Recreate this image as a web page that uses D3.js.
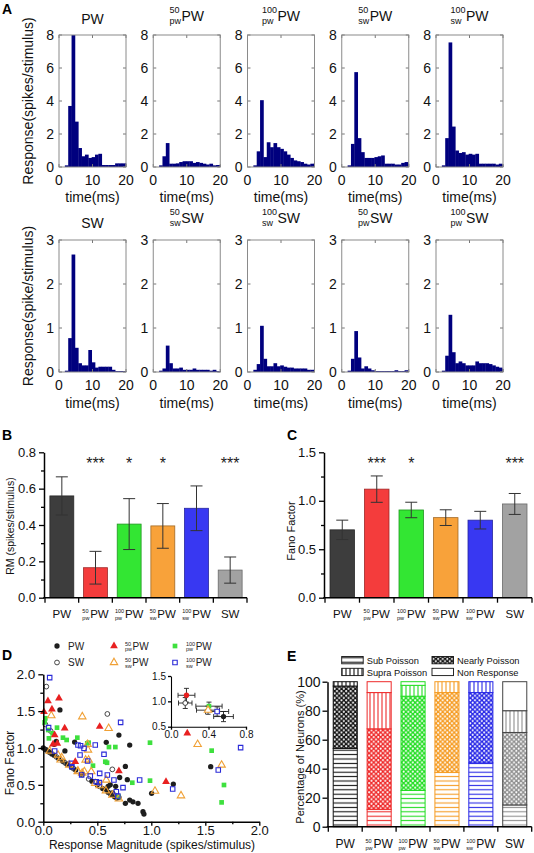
<!DOCTYPE html>
<html><head><meta charset="utf-8">
<script src="https://cdn.jsdelivr.net/npm/d3@7/dist/d3.min.js"></script>
<style>html,body{margin:0;padding:0;background:#fff;}svg{display:block;}</style>
</head><body>
<script>
// ================= DATA =================
// Panel A: PSTH bins (start time in ms, 1 ms wide)
const binStartMs = [0.75,1.75,2.75,3.75,4.75,5.75,6.75,7.75,8.75,9.75,10.75,11.75,12.75,13.75,14.75,15.75,16.75,17.75,18.75,19.75];
const histPW      = [0,0.1,3.7,8,2.75,1.15,0.65,0.75,0.55,0.6,0.75,0.8,0.12,0.12,0.12,0.12,0.22,0.22,0.22,0.22];
const hist50pwPW  = [0,0.1,0.65,1.45,0.2,0.2,0.22,0.3,0.35,0.35,0.35,0.25,0.3,0.25,0.2,0.15,0.2,0.1,0.12,0.12];
const hist100pwPW = [0,0.1,0.95,4.05,0.6,1.5,1.2,1.45,1.2,1.1,0.95,0.75,0.55,0.4,0.35,0.3,0.2,0.15,0.2,0.2];
const hist50swPW  = [0,0.1,1.4,5.75,1.75,0.9,0.55,0.55,0.55,0.6,0.65,0.7,0.2,0.2,0.2,0.15,0.15,0.25,0.3,0.2];
const hist100swPW = [0,0.1,1.75,7.55,2.45,1.0,0.85,0.9,0.75,0.8,0.75,0.8,0.2,0.2,0.2,0.2,0.2,0.15,0.2,0.15];
const histSW      = [0,0.03,0.77,2.67,0.55,0.2,0.15,0.15,0.5,0.22,0.1,0.12,0.12,0.12,0.12,0.05,0.02,0.02,0.02,0.02];
const hist50swSW  = [0,0.03,0.08,0.6,0.2,0.08,0.08,0.1,0.05,0.05,0.05,0.08,0.05,0.05,0.05,0.05,0.03,0.05,0.02,0.02];
const hist100swSW = [0,0.05,0.18,1.05,0.3,0.13,0.13,0.2,0.13,0.15,0.12,0.1,0.1,0.08,0.08,0.08,0.08,0.05,0.05,0.05];
const hist50pwSW  = [0,0.03,0.3,0.93,0.33,0.08,0.13,0.08,0.04,0.02,0.02,0.02,0.02,0.02,0.02,0.04,0.02,0.02,0.04,0.03];
const hist100pwSW = [0,0.03,0.37,1.3,0.45,0.2,0.24,0.2,0.15,0.15,0.15,0.24,0.2,0.2,0.2,0.18,0.15,0.12,0.1,0.07];
const histTopTitles = [{sup:"",sub:"",main:"PW"},{sup:"50",sub:"pw",main:"PW"},{sup:"100",sub:"pw",main:"PW"},{sup:"50",sub:"sw",main:"PW"},{sup:"100",sub:"sw",main:"PW"}];
const histBotTitles = [{sup:"",sub:"",main:"SW"},{sup:"50",sub:"sw",main:"SW"},{sup:"100",sub:"sw",main:"SW"},{sup:"50",sub:"pw",main:"SW"},{sup:"100",sub:"pw",main:"SW"}];
const histTopYTicks = [0,2,4,6,8];
const histBotYTicks = [0,1,2,3];
const histXTicks = [0,10,20];

// Panels B, C, E: conditions
const conditions = [{sup:"",sub:"",main:"PW"},{sup:"50",sub:"pw",main:"PW"},{sup:"100",sub:"pw",main:"PW"},{sup:"50",sub:"sw",main:"PW"},{sup:"100",sub:"sw",main:"PW"},{sup:"",sub:"",main:"SW"}];
const condColors = ["#3d3d3d","#f43c3c","#33e633","#f8a23a","#3838f2","#a2a2a2"];
const rmMean = [0.56,0.165,0.405,0.395,0.492,0.152];
const rmErr  = [0.105,0.09,0.14,0.123,0.123,0.072];
const rmStars = ["","***","*","*","","***"];
const rmTicks = [0,0.2,0.4,0.6,0.8];
const rmMinor = [0.1,0.3,0.5,0.7];
const ffMean = [0.70,1.12,0.905,0.826,0.80,0.967];
const ffErr  = [0.10,0.136,0.08,0.081,0.091,0.108];
const ffStars = ["","***","*","","","***"];
const ffTicks = [0,0.5,1.0,1.5];
const ffMinor = [0.25,0.75,1.25];

// Panel D: scatter [response magnitude, fano factor]
const ptsPW = [[0.154,1.516],[0.29,1.08],[0.12,1.09],[0.583,1.077],[0.70,1.176],[0.80,1.04],[0.76,0.75],[0.707,0.60],[0.778,0.57],[0.6,0.48],[1.204,0.511],[1.003,0.385],[1.55,0.747],[0.76,0.249],[0.80,0.294],[0.83,0.27],[0.877,0.249],[0.923,0.136],[0.932,0.104],[0.0,1.0],[0.02,0.98],[0.05,0.95],[0.08,0.92],[0.1,0.9],[0.14,0.86],[0.18,0.82],[0.22,0.78],[0.26,0.74],[0.3,0.7],[0.35,0.65],[0.45,0.55],[0.5,0.5],[0.55,0.45],[0.6,0.4],[0.63,0.37],[0.66,0.34],[0.68,0.32],[0.64,0.39],[0.58,0.44],[0.1,1.05],[0.2,0.96],[0.67,0.48],[0.62,0.5]];
const ptsSW = [[0.028,1.833],[0.019,1.32],[0.068,1.231],[0.593,1.462],[0.639,0.71],[0.03,0.97],[0.06,0.94],[0.12,0.88],[0.2,0.8],[0.28,0.72],[0.36,0.64],[0.42,0.58],[0.52,0.48],[0.62,0.38],[0.66,0.36],[0.7,0.33]];
const pts50pwPW = [[0.006,1.49],[0.043,1.638],[0.08,1.525],[0.145,1.674],[0.105,1.176],[0.198,1.267],[0.09,1.05],[0.13,1.06],[0.296,0.814],[0.522,1.29],[0.70,0.688],[1.333,1.2],[1.136,0.543]];
const pts100pwPW = [[0.019,1.403],[0.012,1.348],[0.046,1.244],[0.052,1.131],[0.127,1.276],[0.086,1.199],[0.182,1.14],[0.216,1.109],[0.315,1.14],[0.407,1.063],[0.42,1.072],[0.608,1.013],[0.667,1.013],[0.46,0.76],[0.574,0.814],[0.59,0.8],[0.824,0.529],[0.698,0.339],[0.988,1.072],[1.559,0.964],[0.988,0.557],[1.673,0.498],[1.651,0.262]];
const pts50swPW = [[0.074,1.439],[0.361,1.425],[0.605,1.267],[0.41,1.05],[0.414,0.973],[0.392,0.837],[0.42,0.837],[0.321,0.688],[0.36,0.66],[0.38,0.68],[0.444,0.679],[0.136,0.905],[0.17,0.87],[0.583,0.566],[0.522,0.489],[1.429,1.05],[1.651,0.769],[1.275,0.353],[1.034,0.416],[0.16,0.84],[0.24,0.77],[0.32,0.68],[0.48,0.52],[0.58,0.42],[0.64,0.36],[0.7,0.31],[0.06,0.96]];
const pts100swPW = [[0.059,1.955],[0.716,1.348],[0.321,1.041],[0.345,1.03],[0.377,0.995],[0.481,1.041],[0.562,0.914],[0.34,0.905],[0.41,0.824],[0.26,0.792],[0.265,0.747],[0.522,0.656],[0.593,0.633],[0.435,0.62],[0.355,0.633],[0.49,0.543],[0.52,0.53],[0.654,0.566],[0.676,0.407],[0.69,0.348],[0.738,0.462],[0.892,0.566],[0.105,0.96],[0.049,1.276],[1.827,1.005],[1.62,0.701],[1.198,0.443]];
const dTicks = [0,0.5,1.0,1.5,2.0];
const dMinor = [0.25,0.75,1.25,1.75];
const insetXTicks = [0,0.4,0.8];
const insetYTicks = [0.5,1.0,1.5];

// Panel E: percentages
const eSub    = [54,12,25,37.5,44,15];
const eNearly = [43,55.5,65,55,48.5,50];
const eSupra  = [3,25,7.5,7.5,7.5,15];
const eNon    = [0,7.5,2.5,0,0,20];
const eTicks = [0,20,40,60,80,100];
const eColors = ["#111111","#ee2a2a","#22dd22","#f59b22","#2626e6","#8f8f8f"];
const eLegend = ["Sub Poisson","Nearly Poisson","Supra Poisson","Non Response"];

// ================= DRAW =================
const FONT = "'Liberation Sans', Arial, Helvetica, sans-serif";
const svg = d3.select("body").append("svg").attr("width",534).attr("height",853)
  .attr("font-family",FONT);

function scriptLabel(parent, x, y, lab, o){
  const g = parent.append("g").attr("fill", o.fill || "#000");
  let w = 0;
  if (lab.sup || lab.sub){
    const a = g.append("text").attr("y", o.supDy).attr("font-size", o.ssize).text(lab.sup);
    const b = g.append("text").attr("y", o.subDy).attr("font-size", o.ssize).text(lab.sub);
    w = Math.max(a.node().getComputedTextLength(), b.node().getComputedTextLength()) + (o.gap ?? 0.5);
  }
  const m = g.append("text").attr("x", w).attr("font-size", o.size).text(lab.main);
  const tw = w + m.node().getComputedTextLength();
  const x0 = o.anchor === "start" ? x : x - tw/2;
  g.attr("transform", `translate(${x0},${y})`);
  return g;
}

// panel letters
[["A",2,14],["B",2,440],["C",287,440],["D",2,660],["E",287,661]].forEach(([t,x,y])=>{
  svg.append("text").attr("x",x).attr("y",y).attr("font-size",14).attr("font-weight","bold").text(t);
});

// ---------- Panel A ----------
const boxW = 67, boxH = 132, boxLeft0 = 59, boxStep = 94.25;
const rowsA = [
  {top:35, data:[histPW,hist50pwPW,hist100pwPW,hist50swPW,hist100swPW], titles:histTopTitles, ymax:8, ticks:histTopYTicks,
   ylab:"Response(spikes/stimulus)", plainBase:-11, scrBase:-14, timeBase:35},
  {top:240, data:[histSW,hist50swSW,hist100swSW,hist50pwSW,hist100pwSW], titles:histBotTitles, ymax:3, ticks:histBotYTicks,
   ylab:"Response(spike/stimulus)", plainBase:-12, scrBase:-17, timeBase:36}
];
rowsA.forEach(row=>{
  svg.append("text").attr("transform",`translate(33,${row.top+boxH/2}) rotate(-90)`)
    .attr("text-anchor","middle").attr("font-size",14).attr("fill","#111").text(row.ylab);
  row.data.forEach((vals,i)=>{
    const left = boxLeft0 + i*boxStep;
    const g = svg.append("g");
    const xs = d3.scaleLinear().domain([0,20]).range([left,left+boxW]);
    const ys = d3.scaleLinear().domain([0,row.ymax]).range([row.top+boxH,row.top]);
    g.selectAll("rect.bar").data(vals).join("rect").attr("class","bar")
      .attr("x",(d,j)=>xs(binStartMs[j]))
      .attr("width",(d,j)=>Math.max(0, xs(Math.min(binStartMs[j]+1,20))-xs(binStartMs[j])+0.35))
      .attr("y",d=>ys(d)).attr("height",d=>ys(0)-ys(d))
      .attr("fill","#00007e");
    row.ticks.forEach(t=>{
      g.append("line").attr("x1",left).attr("x2",left+3).attr("y1",ys(t)).attr("y2",ys(t)).attr("stroke","#777");
      g.append("line").attr("x1",left+boxW-3).attr("x2",left+boxW).attr("y1",ys(t)).attr("y2",ys(t)).attr("stroke","#777");
      g.append("text").attr("x",left-5).attr("y",ys(t)).attr("dy","0.36em").attr("text-anchor","end")
        .attr("font-size",14).attr("fill","#111").text(t);
    });
    histXTicks.forEach(t=>{
      g.append("line").attr("x1",xs(t)).attr("x2",xs(t)).attr("y1",row.top).attr("y2",row.top+3).attr("stroke","#777");
      g.append("line").attr("x1",xs(t)).attr("x2",xs(t)).attr("y1",row.top+boxH-3).attr("y2",row.top+boxH).attr("stroke","#777");
      g.append("text").attr("x",xs(t)).attr("y",row.top+boxH+18).attr("text-anchor","middle")
        .attr("font-size",14).attr("fill","#111").text(t);
    });
    g.append("rect").attr("x",left).attr("y",row.top).attr("width",boxW).attr("height",boxH)
      .attr("fill","none").attr("stroke","#8a8a8a").attr("stroke-width",1);
    const lab = row.titles[i];
    const plain = !(lab.sup || lab.sub);
    scriptLabel(svg, left+boxW/2, row.top + (plain?row.plainBase:row.scrBase), lab,
      {size:14, ssize:9, supDy:-8.5, subDy:3, gap:0.5, fill:"#111"});
    svg.append("text").attr("x",left+boxW/2).attr("y",row.top+boxH+row.timeBase).attr("text-anchor","middle")
      .attr("font-size",14).attr("fill","#111").text("time(ms)");
  });
});

// ---------- bar panels B and C ----------
function barPanel(o){
  const x = d3.scaleBand().domain(d3.range(conditions.length)).range([o.x0,o.x1]).paddingInner(0.29).paddingOuter(0.145);
  const y = d3.scaleLinear().domain([0,o.ymax]).range([597.7,452.3]);
  const g = svg.append("g");
  g.selectAll("rect").data(o.mean).join("rect")
    .attr("x",(d,i)=>x(i)).attr("width",x.bandwidth())
    .attr("y",d=>y(d)).attr("height",d=>y(0)-y(d))
    .attr("fill",(d,i)=>condColors[i]).attr("stroke",(d,i)=>d3.color(condColors[i]).darker(1.2)).attr("stroke-width",0.8);
  o.mean.forEach((m,i)=>{
    const cx = x(i)+x.bandwidth()/2, e=o.err[i];
    g.append("line").attr("x1",cx).attr("x2",cx).attr("y1",y(m-e)).attr("y2",y(m+e)).attr("stroke","#333");
    [m-e,m+e].forEach(v=>g.append("line").attr("x1",cx-6).attr("x2",cx+6).attr("y1",y(v)).attr("y2",y(v)).attr("stroke","#333"));
    if (o.stars[i]) g.append("text").attr("x",cx).attr("y",469).attr("text-anchor","middle").attr("font-size",16).attr("fill","#222").text(o.stars[i]);
    scriptLabel(g, cx, 618, conditions[i], {size:11.5, ssize:5.5, supDy:-5, subDy:1.5, gap:0.8, fill:"#111"});
  });
  const ay = g.append("g").attr("transform",`translate(${o.x0-1},0)`)
    .call(d3.axisLeft(y).tickValues(o.ticks).tickFormat(d3.format(".1f")).tickSize(5).tickSizeOuter(0).tickPadding(3));
  ay.attr("font-family",FONT).attr("font-size",13);
  ay.select(".domain").attr("stroke-width",1.5);
  ay.selectAll(".tick line").attr("stroke-width",1.3);
  ay.selectAll(".tick text").attr("fill","#111");
  const am = g.append("g").attr("transform",`translate(${o.x0-1},0)`)
    .call(d3.axisLeft(y).tickValues(o.minor).tickFormat("").tickSize(3));
  am.select(".domain").remove();
  am.selectAll(".tick line").attr("stroke-width",1.3);
  g.append("line").attr("x1",o.x0-1.75).attr("x2",o.x1).attr("y1",y(0)).attr("y2",y(0)).attr("stroke","#000").attr("stroke-width",1.5);
  d3.range(conditions.length+1).forEach(k=>{
    const tx = o.x0 + k*x.step();
    g.append("line").attr("x1",tx).attr("x2",tx).attr("y1",y(0)).attr("y2",y(0)+5).attr("stroke","#000").attr("stroke-width",1.3);
  });
  g.append("text").attr("transform",`translate(${o.ylx},${o.yly}) rotate(-90)`).attr("text-anchor","middle")
    .attr("font-size",o.ylfs).attr("fill","#111").text(o.ylab);
}
barPanel({x0:45,x1:247,ymax:0.8,mean:rmMean,err:rmErr,stars:rmStars,ticks:rmTicks,minor:rmMinor,ylab:"RM (spikes/stimulus)",ylx:14,yly:526,ylfs:10.5});
barPanel({x0:325,x1:532,ymax:1.5,mean:ffMean,err:ffErr,stars:ffStars,ticks:ffTicks,minor:ffMinor,ylab:"Fano Factor",ylx:295,yly:531,ylfs:11});

// ---------- Panel D ----------
const dX = d3.scaleLinear().domain([0,2]).range([43.3,259.3]);
const dY = d3.scaleLinear().domain([0,2]).range([821.7,674.3]);
const gD = svg.append("g");
const specs = {
  PW:{type:d3.symbolCircle,size:22,fill:"#1e1e1e",stroke:"none",sw:0},
  SW:{type:d3.symbolCircle,size:18,fill:"none",stroke:"#333",sw:0.9},
  p50:{type:d3.symbolTriangle,size:26,fill:"#e82020",stroke:"none",sw:0},
  p100:{type:d3.symbolSquare,size:22,fill:"#3ee03e",stroke:"none",sw:0},
  s50:{type:d3.symbolTriangle,size:24,fill:"none",stroke:"#f0a035",sw:1.1},
  s100:{type:d3.symbolSquare,size:20,fill:"none",stroke:"#2a2ad8",sw:1.1}
};
function markers(g, pts, sp, xs, ys){
  g.selectAll(null).data(pts).join("path")
    .attr("d", d3.symbol().type(sp.type).size(sp.size))
    .attr("transform", d=>`translate(${xs(d[0])},${ys(d[1])})`)
    .attr("fill", sp.fill).attr("stroke", sp.stroke).attr("stroke-width", sp.sw);
}
markers(gD, ptsPW, specs.PW, dX, dY);
markers(gD, ptsSW, specs.SW, dX, dY);
markers(gD, pts100pwPW, specs.p100, dX, dY);
markers(gD, pts50swPW, specs.s50, dX, dY);
markers(gD, pts100swPW, specs.s100, dX, dY);
markers(gD, pts50pwPW, specs.p50, dX, dY);

function styleAx(a, fs){
  a.attr("font-family",FONT).attr("font-size",fs);
  a.select(".domain").attr("stroke-width",1.5);
  a.selectAll(".tick line").attr("stroke-width",1.3);
  a.selectAll(".tick text").attr("fill","#111");
}
const dxa = gD.append("g").attr("transform",`translate(0,${dY(0)})`)
  .call(d3.axisBottom(dX).tickValues(dTicks).tickFormat(d3.format(".1f")).tickSize(4).tickSizeOuter(0).tickPadding(0));
styleAx(dxa,13);
const dxm = gD.append("g").attr("transform",`translate(0,${dY(0)})`).call(d3.axisBottom(dX).tickValues(dMinor).tickFormat("").tickSize(2.5));
dxm.select(".domain").remove(); dxm.selectAll(".tick line").attr("stroke-width",1.3);
const dya = gD.append("g").attr("transform",`translate(${dX(0)},0)`)
  .call(d3.axisLeft(dY).tickValues(dTicks).tickFormat(d3.format(".1f")).tickSize(5).tickSizeOuter(0).tickPadding(3));
styleAx(dya,13.5);
const dym = gD.append("g").attr("transform",`translate(${dX(0)},0)`).call(d3.axisLeft(dY).tickValues(dMinor).tickFormat("").tickSize(3));
dym.select(".domain").remove(); dym.selectAll(".tick line").attr("stroke-width",1.3);
gD.append("text").attr("x",152).attr("y",849).attr("text-anchor","middle").attr("font-size",12).attr("fill","#111")
  .text("Response Magnitude (spikes/stimulus)");
gD.append("text").attr("transform","translate(14,763) rotate(-90)").attr("text-anchor","middle").attr("font-size",12).attr("fill","#111")
  .text("Fano Factor");

// inset
const iX = d3.scaleLinear().domain([0,0.8]).range([171,246]);
const iY = d3.scaleLinear().domain([0.5,1.5]).range([726.7,676]);
const gI = svg.append("g");
const insetSpecs = [specs.PW,{...specs.p50,type:d3.symbolCircle,size:22},specs.p100,specs.s50,specs.s100,specs.SW];
rmMean.forEach((m,i)=>{
  const cx=iX(m), cy=iY(ffMean[i]);
  const ex=rmErr[i], ey=ffErr[i];
  gI.append("line").attr("x1",iX(m-ex)).attr("x2",iX(m+ex)).attr("y1",cy).attr("y2",cy).attr("stroke","#222").attr("stroke-width",0.9);
  gI.append("line").attr("x1",cx).attr("x2",cx).attr("y1",iY(ffMean[i]-ey)).attr("y2",iY(ffMean[i]+ey)).attr("stroke","#222").attr("stroke-width",0.9);
  [m-ex,m+ex].forEach(v=>gI.append("line").attr("x1",iX(v)).attr("x2",iX(v)).attr("y1",cy-2.5).attr("y2",cy+2.5).attr("stroke","#222").attr("stroke-width",0.9));
  [ffMean[i]-ey,ffMean[i]+ey].forEach(v=>gI.append("line").attr("x1",cx-2.5).attr("x2",cx+2.5).attr("y1",iY(v)).attr("y2",iY(v)).attr("stroke","#222").attr("stroke-width",0.9));
});
rmMean.forEach((m,i)=>{
  const sp = insetSpecs[i];
  gI.append("path").attr("d",d3.symbol().type(sp.type).size(sp.size)()).attr("transform",`translate(${iX(m)},${iY(ffMean[i])})`)
    .attr("fill", sp.fill==="none"?"#fff":sp.fill).attr("stroke",sp.stroke).attr("stroke-width",sp.sw);
});
const ixa = gI.append("g").attr("transform",`translate(0,${iY(0.5)})`)
  .call(d3.axisBottom(iX).tickValues(insetXTicks).tickFormat(d3.format(".1f")).tickSize(3).tickSizeOuter(0).tickPadding(1));
styleAx(ixa,10); ixa.select(".domain").attr("stroke-width",1.1);
const iya = gI.append("g").attr("transform",`translate(${iX(0)},0)`)
  .call(d3.axisLeft(iY).tickValues(insetYTicks).tickFormat(d3.format(".1f")).tickSize(3).tickSizeOuter(0).tickPadding(2));
styleAx(iya,10); iya.select(".domain").attr("stroke-width",1.1);

// legend D
const legD = [
  {lab:{sup:"",sub:"",main:"PW"},sp:specs.PW},{lab:{sup:"50",sub:"pw",main:"PW"},sp:specs.p50},{lab:{sup:"100",sub:"pw",main:"PW"},sp:specs.p100},
  {lab:{sup:"",sub:"",main:"SW"},sp:specs.SW},{lab:{sup:"50",sub:"sw",main:"PW"},sp:specs.s50},{lab:{sup:"100",sub:"sw",main:"PW"},sp:specs.s100}
];
const legDx = [57,114,175], legDy = [646,662.5];
legD.forEach((d,i)=>{
  const cx = legDx[i%3], cy = legDy[Math.floor(i/3)];
  svg.append("path").attr("d",d3.symbol().type(d.sp.type).size(d.sp.size)()).attr("transform",`translate(${cx},${cy})`)
    .attr("fill",d.sp.fill).attr("stroke",d.sp.stroke).attr("stroke-width",d.sp.sw);
  scriptLabel(svg, cx+11, cy+3.5, d.lab, {size:10, ssize:5.5, supDy:-4, subDy:1.5, gap:0.5, anchor:"start", fill:"#222"});
});

// ---------- Panel E ----------
const defs = svg.append("defs");
eColors.forEach((c,i)=>{
  const ph = defs.append("pattern").attr("id",`ph${i}`).attr("patternUnits","userSpaceOnUse").attr("width",4).attr("height",4.4);
  ph.append("rect").attr("width",4).attr("height",4.4).attr("fill","#fff");
  ph.append("line").attr("x1",0).attr("x2",4).attr("y1",2.2).attr("y2",2.2).attr("stroke",c).attr("stroke-width",1.1);
  const pv = defs.append("pattern").attr("id",`pv${i}`).attr("patternUnits","userSpaceOnUse").attr("width",4).attr("height",4);
  pv.append("rect").attr("width",4).attr("height",4).attr("fill","#fff");
  pv.append("line").attr("x1",2).attr("x2",2).attr("y1",0).attr("y2",4).attr("stroke",c).attr("stroke-width",1.1);
  const pc = defs.append("pattern").attr("id",`pc${i}`).attr("patternUnits","userSpaceOnUse").attr("width",4.6).attr("height",4.6);
  pc.append("rect").attr("width",4.6).attr("height",4.6).attr("fill",c);
  pc.append("circle").attr("cx",1.15).attr("cy",1.15).attr("r",1.05).attr("fill","#fff");
  pc.append("circle").attr("cx",3.45).attr("cy",3.45).attr("r",1.05).attr("fill","#fff");
});
const eX = d3.scaleBand().domain(d3.range(conditions.length)).range([328.3,531.7]).paddingInner(0.29).paddingOuter(0.145);
const eY = d3.scaleLinear().domain([0,100]).range([826.7,681.7]);
const gE = svg.append("g");
const stackLayers = [{vals:eSub,pat:"ph"},{vals:eNearly,pat:"pc"},{vals:eSupra,pat:"pv"},{vals:eNon,pat:null}];
conditions.forEach((c,i)=>{
  let base = 0;
  const strokeC = i===5 ? "#444" : eColors[i];
  stackLayers.forEach(L=>{
    const v = L.vals[i];
    if (v>0){
      gE.append("rect").attr("x",eX(i)).attr("width",eX.bandwidth())
        .attr("y",eY(base+v)).attr("height",eY(base)-eY(base+v))
        .attr("fill", L.pat ? `url(#${L.pat}${i})` : "#fff").attr("stroke",strokeC).attr("stroke-width",1);
    }
    base += v;
  });
  scriptLabel(gE, eX(i)+eX.bandwidth()/2, 848, c, {size:12, ssize:5.5, supDy:-5.5, subDy:1.5, gap:0.8, fill:"#111"});
});
const eya = gE.append("g").attr("transform",`translate(327.5,0)`)
  .call(d3.axisLeft(eY).tickValues(eTicks).tickSize(5).tickSizeOuter(0).tickPadding(2));
styleAx(eya,14);
gE.append("line").attr("x1",326.8).attr("x2",531.7).attr("y1",eY(0)).attr("y2",eY(0)).attr("stroke","#000").attr("stroke-width",1.5);
d3.range(conditions.length+1).forEach(k=>{
  const tx = 328.3 + k*eX.step();
  gE.append("line").attr("x1",tx).attr("x2",tx).attr("y1",eY(0)).attr("y2",eY(0)+5).attr("stroke","#000").attr("stroke-width",1.3);
});
gE.append("text").attr("transform","translate(304,757) rotate(-90)").attr("text-anchor","middle").attr("font-size",11).attr("fill","#111")
  .text("Percentage of Neurons (%)");
// legend E
const legEpos = [[341.7,656.5],[432,656.5],[341.7,668.3],[432,668.3]];
const legEfill = ["url(#ph0)","url(#pc0)","url(#pv0)","#fff"];
eLegend.forEach((t,i)=>{
  const [lx,ly] = legEpos[i];
  svg.append("rect").attr("x",lx).attr("y",ly).attr("width",21.5).attr("height",7.3).attr("fill",legEfill[i]).attr("stroke","#111").attr("stroke-width",0.9);
  svg.append("text").attr("x",lx+25).attr("y",ly+7.3).attr("font-size",9.3).attr("fill","#111").text(t);
});
</script>
</body></html>
